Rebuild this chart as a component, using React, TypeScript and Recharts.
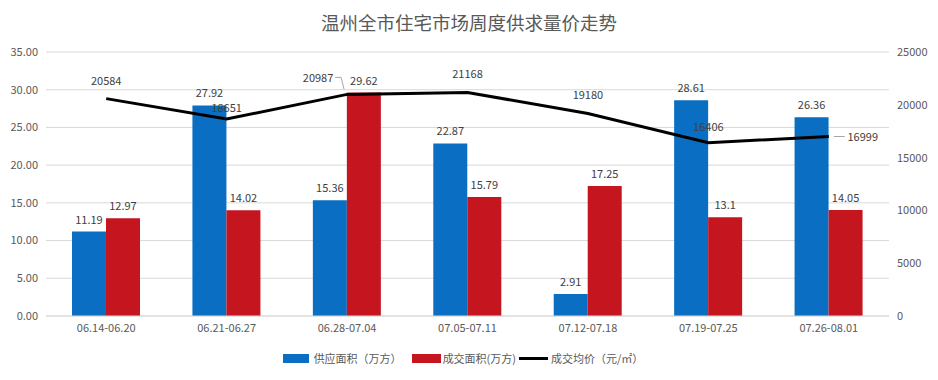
import React from 'react';
import {
  ComposedChart,
  Bar,
  Line,
  XAxis,
  YAxis,
  CartesianGrid,
  LabelList,
} from 'recharts';

const categories = [
  '06.14-06.20',
  '06.21-06.27',
  '06.28-07.04',
  '07.05-07.11',
  '07.12-07.18',
  '07.19-07.25',
  '07.26-08.01',
];
const supplyArea = [11.19, 27.92, 15.36, 22.87, 2.91, 28.61, 26.36];
const dealArea = [12.97, 14.02, 29.62, 15.79, 17.25, 13.1, 14.05];
const avgPrice = [20584, 18651, 20987, 21168, 19180, 16406, 16999];
const leftTicks = [0, 5, 10, 15, 20, 25, 30, 35];
const rightTicks = [0, 5000, 10000, 15000, 20000, 25000];

const seriesNames = ['供应面积（万方）', '成交面积(万方)', '成交均价（元/㎡）'];
const title = '温州全市住宅市场周度供求量价走势';

const data = categories.map((c, i) => ({
  name: c,
  supply: supplyArea[i],
  deal: dealArea[i],
  price: avgPrice[i],
}));

const FONT = '"Noto Sans CJK SC", "Noto Sans", sans-serif';
const BLUE = '#0a6fc2';
const RED = '#c5161f';
const TEXT = '#404040';
const AXIS_TEXT = '#595959';
const GRID = '#d9d9d9';

// label placement per point (styling only)
const priceLabelMode = ['top', 'top', 'left', 'top', 'top', 'top', 'right'];
const priceLabelDy = [-19, -12, -17, -19, -19, -17, 0];

const PriceLabel = (props: any) => {
  const { x, y, value, index } = props;
  const mode = priceLabelMode[index];
  const dy = priceLabelDy[index];
  if (mode === 'left') {
    return (
      <g>
        <path d={`M${x - 12},${y + dy} L${x - 6},${y + dy} L${x - 3},${y - 5}`} stroke="#a6a6a6" fill="none" strokeWidth={1} />
        <text x={x - 29} y={y + dy} textAnchor="middle" dominantBaseline="central" fontSize={11} fill={TEXT} fontFamily={FONT}>
          {value}
        </text>
      </g>
    );
  }
  if (mode === 'right') {
    return (
      <g>
        <path d={`M${x + 5},${y} L${x + 16},${y}`} stroke="#a6a6a6" fill="none" strokeWidth={1} />
        <text x={x + 34} y={y} textAnchor="middle" dominantBaseline="central" fontSize={11} fill={TEXT} fontFamily={FONT}>
          {value}
        </text>
      </g>
    );
  }
  return (
    <text x={x} y={y + dy} textAnchor="middle" dominantBaseline="central" fontSize={11} fill={TEXT} fontFamily={FONT}>
      {value}
    </text>
  );
};

export default function App() {
  return (
    <div style={{ position: 'absolute', left: 0, top: 0, width: 938, height: 380, background: '#fff', fontFamily: FONT }}>
      <div
        style={{
          position: 'absolute',
          left: 0,
          top: 9,
          width: 938,
          textAlign: 'center',
          fontSize: 18.5,
          color: AXIS_TEXT,
          lineHeight: '27px',
        }}
      >
        {title}
      </div>
      <ComposedChart
        width={938}
        height={380}
        data={data}
        margin={{ top: 52, right: 0, left: 0, bottom: 34 }}
        barGap={0}
      >
        <CartesianGrid vertical={false} stroke={GRID} yAxisId="left" />
        <XAxis
          dataKey="name"
          height={30}
          tickLine={false}
          axisLine={{ stroke: GRID }}
          tick={{ fontSize: 11, fill: AXIS_TEXT, fontFamily: FONT }}
          interval={0}
        />
        <YAxis
          yAxisId="left"
          orientation="left"
          width={46}
          domain={[0, 35]}
          ticks={leftTicks}
          tickFormatter={(v: number) => v.toFixed(2)}
          tickLine={false}
          axisLine={false}
          tickSize={6}
          tick={{ fontSize: 11, fill: AXIS_TEXT, fontFamily: FONT }}
        />
        <YAxis
          yAxisId="right"
          orientation="right"
          width={49}
          domain={[0, 25000]}
          ticks={rightTicks}
          tickLine={false}
          axisLine={false}
          tickSize={6}
          tick={{ fontSize: 11, fill: AXIS_TEXT, fontFamily: FONT, textAnchor: 'start' }}
        />
        <Bar yAxisId="left" dataKey="supply" name={seriesNames[0]} fill={BLUE} barSize={34} isAnimationActive={false}>
          <LabelList dataKey="supply" position="top" offset={8} style={{ fontSize: 11, fill: TEXT, fontFamily: FONT }} />
        </Bar>
        <Bar yAxisId="left" dataKey="deal" name={seriesNames[1]} fill={RED} barSize={34} isAnimationActive={false}>
          <LabelList dataKey="deal" position="top" offset={8} style={{ fontSize: 11, fill: TEXT, fontFamily: FONT }} />
        </Bar>
        <Line
          yAxisId="right"
          dataKey="price"
          name={seriesNames[2]}
          stroke="#000"
          strokeWidth={3}
          dot={false}
          activeDot={false}
          type="linear"
          isAnimationActive={false}
        >
          <LabelList dataKey="price" content={<PriceLabel />} />
        </Line>
      </ComposedChart>
      <div
        style={{
          position: 'absolute',
          left: 0,
          top: 350,
          width: 938,
          height: 16,
          display: 'flex',
          justifyContent: 'center',
          alignItems: 'center',
          fontSize: 11,
          color: AXIS_TEXT,
        }}
      >
        <div style={{ display: 'flex', alignItems: 'center', marginLeft: -12 }}>
          <span style={{ display: 'inline-block', width: 26, height: 9, background: BLUE, marginRight: 5 }} />
          <span style={{ marginRight: 10 }}>{seriesNames[0]}</span>
          <span style={{ display: 'inline-block', width: 29, height: 9, background: RED, marginRight: 2 }} />
          <span style={{ marginRight: 3 }}>{seriesNames[1]}</span>
          <span style={{ display: 'inline-block', width: 29, height: 3, background: '#000', marginRight: 3 }} />
          <span>{seriesNames[2]}</span>
        </div>
      </div>
    </div>
  );
}
